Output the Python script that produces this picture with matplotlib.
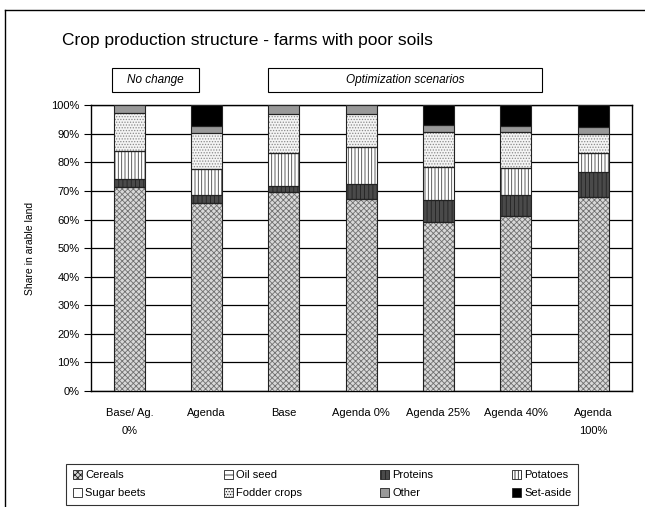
import matplotlib
matplotlib.use('Agg')
import matplotlib.pyplot as plt
from matplotlib.patches import Rectangle, Patch
from matplotlib.lines import Line2D
import numpy as np

plt.rcParams['font.family'] = ['Liberation Sans', 'DejaVu Sans']
plt.rcParams['hatch.linewidth'] = 0.6

scenarios = ['Base/ Ag.\n0%', 'Agenda', 'Base', 'Agenda 0%', 'Agenda 25%', 'Agenda 40%', 'Agenda\n100%']

# shares in % of arable land
cereals     = [71.5, 65.8, 69.8, 67.3, 59.1, 61.1, 67.8]
oil_seed    = [0, 0, 0, 0, 0, 0, 0]
proteins    = [2.6, 2.9, 1.9, 5.3, 7.8, 7.5, 8.8]
potatoes    = [10.0, 9.0, 11.6, 12.7, 11.6, 9.6, 6.6]
sugar_beets = [0, 0, 0, 0, 0, 0, 0]
fodder      = [13.1, 12.5, 13.8, 11.8, 12.3, 12.4, 6.6]
other       = [2.8, 2.7, 2.9, 2.9, 2.3, 2.3, 2.6]
set_aside   = [0, 7.1, 0, 0, 6.9, 7.1, 7.8]

series = [
    ('Cereals', cereals, dict(fc='#d8d8d8', hatch='xxxxxx', hc='#707070')),
    ('Oil seed', oil_seed, dict(fc='white', hatch='---', hc='black')),
    ('Proteins', proteins, dict(fc='#4a4a4a', hatch='||||', hc='#222222')),
    ('Potatoes', potatoes, dict(fc='white', hatch='|||||', hc='#444444')),
    ('Sugar beets', sugar_beets, dict(fc='white', hatch='', hc='black')),
    ('Fodder crops', fodder, dict(fc='#f4f4f4', hatch='......', hc='#8a8a8a')),
    ('Other', other, dict(fc='#999999', hatch='', hc='#999999')),
    ('Set-aside', set_aside, dict(fc='black', hatch='', hc='black')),
]

W, H = 645, 507
fig = plt.figure(figsize=(W / 100, H / 100), dpi=100)
ax = fig.add_axes([90.7 / W, 1 - 391 / H, (631.7 - 90.7) / W, (391 - 105.3) / H])

x = np.arange(len(scenarios))
bottom = np.zeros(len(scenarios))
handles = []
for name, vals, st in series:
    vals = np.array(vals, dtype=float)
    plt.rcParams['hatch.color'] = st['hc']
    ax.bar(x, vals, 0.4, bottom=bottom, color=st['fc'], hatch=st['hatch'],
           edgecolor=st['hc'], linewidth=0, zorder=3)
    ax.bar(x, vals, 0.4, bottom=bottom, fill=False, edgecolor='#222222',
           linewidth=0.8, zorder=4)
    handles.append(Patch(facecolor=st['fc'], hatch=st['hatch'], edgecolor='#222222',
                         linewidth=0.6, label=name))
    bottom += vals

ax.set_xlim(-0.5, 6.5)
ax.set_ylim(0, 100)
ax.set_yticks(np.arange(0, 101, 10))
ax.set_yticklabels([f'{v}%' for v in range(0, 101, 10)])
ax.set_xticks(x)
ax.set_xticklabels(scenarios, linespacing=2.0, va='top')
ax.tick_params(axis='x', length=0, pad=12, labelsize=8)
ax.tick_params(axis='y', length=5, width=0.8, direction='out', pad=3, labelsize=8)
ax.yaxis.grid(True, color='black', linewidth=0.9, zorder=0)
ax.set_axisbelow(True)
for s in ax.spines.values():
    s.set_linewidth(1.0)
    s.set_color('black')
ax.set_ylabel('Share in arable land', fontsize=7.5, labelpad=12)

fig.text(62 / W, 1 - 40 / H, 'Crop production structure - farms with poor soils',
         fontsize=12.5, ha='left', va='center')

# scenario group boxes
for (x0, x1), txt in [((111.7, 199), 'No change'), ((268.3, 541.7), 'Optimization scenarios')]:
    fig.add_artist(Rectangle((x0 / W, 1 - 92 / H), (x1 - x0) / W, 24 / H,
                             transform=fig.transFigure, fill=False,
                             edgecolor='black', linewidth=0.8))
    fig.text((x0 + x1) / 2 / W, 1 - 80 / H, txt, fontsize=8.5, style='italic',
             ha='center', va='center')

# outer frame
fig.add_artist(Line2D([5 / W, 5 / W], [0, 1 - 10 / H], color='black', linewidth=1.0,
                      transform=fig.transFigure))
fig.add_artist(Line2D([5 / W, 1], [1 - 10 / H, 1 - 10 / H], color='black', linewidth=1.0,
                      transform=fig.transFigure))

order = [0, 4, 1, 5, 2, 6, 3, 7]
leg = fig.legend([handles[i] for i in order], [handles[i].get_label() for i in order],
                 ncol=4, loc='lower left', mode='expand',
                 bbox_to_anchor=(66 / W, 1 - 505 / H, (578 - 66) / W, 50 / H),
                 fontsize=8, frameon=True, fancybox=False, edgecolor='black',
                 handlelength=0.8, handleheight=0.8, handletextpad=0.3,
                 borderpad=0.6, labelspacing=0.7, borderaxespad=0)
leg.get_frame().set_linewidth(0.8)

fig.savefig('out.png', dpi=100)
